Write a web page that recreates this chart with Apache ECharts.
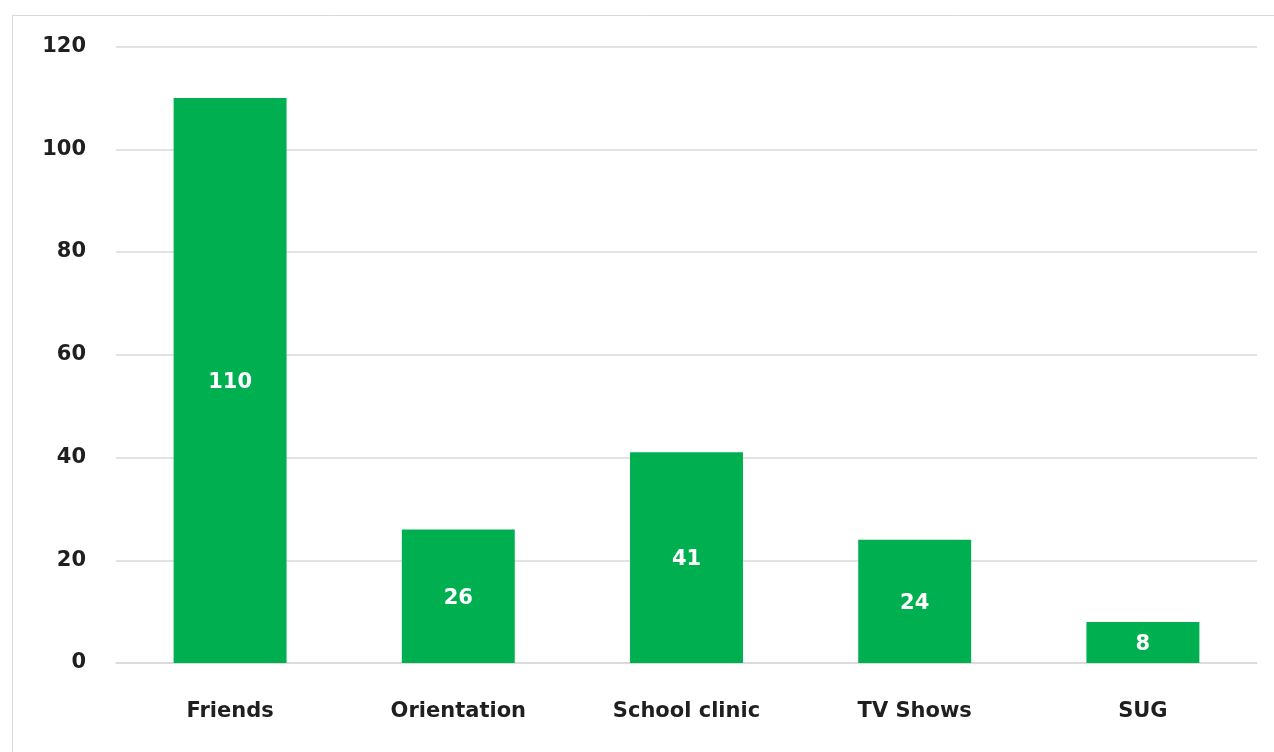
<!DOCTYPE html>
<html>
<head>
<meta charset="utf-8">
<script src="https://cdn.jsdelivr.net/npm/echarts@6/dist/echarts.min.js"></script>
<style>
  html, body { margin: 0; padding: 0; background: #fff; }
  #chart { width: 1274px; height: 752px; }
</style>
</head>
<body>
<div id="chart"></div>
<script>
// Sources where respondents heard about the topic
const categories = ['Friends', 'Orientation', 'School clinic', 'TV Shows', 'SUG'];
const counts = [110, 26, 41, 24, 8];
const yTicks = { min: 0, max: 120, interval: 20 };

const FONT = '"DejaVu Sans", "Open Sans", sans-serif';
const chart = echarts.init(document.getElementById('chart'));

chart.setOption({
  backgroundColor: '#ffffff',
  animation: false,
  graphic: [{
    type: 'rect',
    shape: { x: 12.5, y: 15.5, width: 1300, height: 800 },
    style: { fill: 'none', stroke: '#d9d9d9', lineWidth: 1 },
    silent: true
  }],
  grid: { left: 116, right: 17, top: 46.5, bottom: 89 },
  xAxis: {
    type: 'category',
    data: categories,
    axisLine: { show: true, lineStyle: { color: '#d9d9d9', width: 1.5 } },
    axisTick: { show: false },
    axisLabel: {
      margin: 38,
      color: '#1f1f1f',
      fontFamily: FONT,
      fontWeight: 'bold',
      fontSize: 21
    }
  },
  yAxis: {
    type: 'value',
    min: yTicks.min,
    max: yTicks.max,
    interval: yTicks.interval,
    axisLine: { show: false },
    axisTick: { show: false },
    splitLine: { lineStyle: { color: '#d9d9d9', width: 1.5 } },
    axisLabel: {
      margin: 30,
      color: '#1f1f1f',
      fontFamily: FONT,
      fontWeight: 'bold',
      fontSize: 21
    }
  },
  series: [{
    type: 'bar',
    data: counts,
    barWidth: '49.5%',
    itemStyle: { color: '#00b050' },
    label: {
      show: true,
      position: 'inside',
      offset: [0, 2],
      color: '#ffffff',
      fontFamily: FONT,
      fontWeight: 'bold',
      fontSize: 21
    }
  }]
});
</script>
</body>
</html>
